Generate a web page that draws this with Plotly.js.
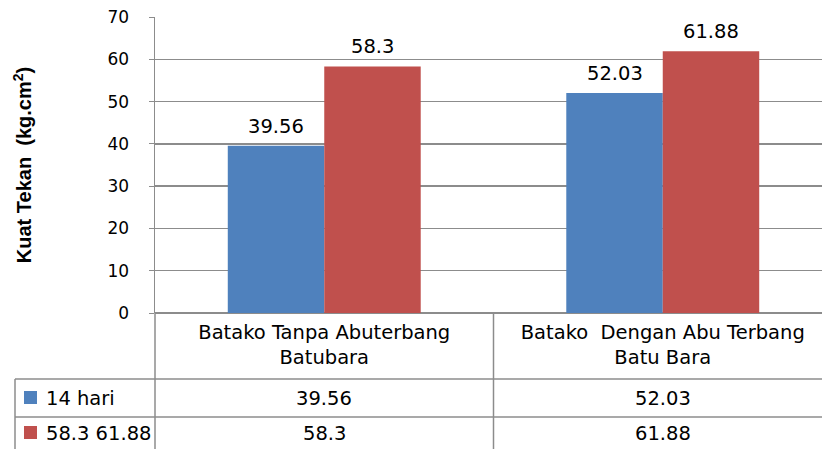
<!DOCTYPE html>
<html>
<head>
<meta charset="utf-8">
<script src="https://cdn.plot.ly/plotly-3.0.1.min.js"></script>
<style>html,body{margin:0;padding:0;background:#fff;}#chart{width:822px;height:449px;}</style>
</head>
<body>
<div id="chart"></div>
<script>
const categories = ["Batako Tanpa Abuterbang<br>Batubara", "Batako\u00a0\u00a0Dengan Abu Terbang<br>Batu Bara"];
const seriesNames = ["14 hari", "58.3 61.88"];
const series14 = [39.56, 52.03];
const series28 = [58.3, 61.88];
const seriesColors = ["#4F81BD", "#C0504D"];
const yTitle = "Kuat Tekan\u00a0\u00a0(kg.cm<sup>2</sup>)";

const W = 822, H = 449;
const px = x => x / W;
const py = y => 1 - y / H;
const font = "DejaVu Sans, Verdana, sans-serif";
const grid = "#8c8c8c";
const txtSize = 19.5;
const bargap = 0.43;
const barW = (1 - bargap) / 2;

const allSeries = [series14, series28];
const traces = allSeries.map((vals, i) => ({
  type: "bar",
  name: seriesNames[i],
  x: categories,
  y: vals,
  marker: {color: seriesColors[i]},
  hoverinfo: "none"
}));

const shapes = [];
const annotations = [];
// data labels above the bars (positioned by the axes from the data)
allSeries.forEach((vals, i) => {
  vals.forEach((v, j) => {
    annotations.push({xref: "x", yref: "y", x: j + (i - 0.5) * barW, y: v, yanchor: "bottom", xanchor: "center", yshift: 6,
      text: String(v), showarrow: false, font: {family: font, size: txtSize, color: "#000"}});
  });
});

// table geometry (pixel positions)
const tblLeft = 15, plotLeft = 155, mid = 493.5, right = 832;
const rowTops = [379, 417];
const rowBottom = 452;
rowTops.forEach(y => shapes.push({type: "line", xref: "paper", yref: "paper", x0: px(tblLeft), x1: 1, y0: py(y), y1: py(y), line: {color: grid, width: 1.5}}));
shapes.push({type: "line", xref: "paper", yref: "paper", x0: px(tblLeft), x1: px(tblLeft), y0: py(rowTops[0]), y1: py(rowBottom), line: {color: grid, width: 1.5}});
shapes.push({type: "line", xref: "paper", yref: "paper", x0: px(plotLeft), x1: px(plotLeft), y0: py(313), y1: py(rowBottom), line: {color: grid, width: 1.5}});
shapes.push({type: "line", xref: "paper", yref: "paper", x0: px(mid), x1: px(mid), y0: py(313), y1: py(rowBottom), line: {color: grid, width: 1.5}});

const colCenters = [(plotLeft + mid) / 2, (mid + right) / 2];
const rowCenters = [398, 433];
allSeries.forEach((vals, i) => {
  const yc = rowCenters[i];
  shapes.push({type: "rect", xref: "paper", yref: "paper", x0: px(24), x1: px(37), y0: py(yc + 6), y1: py(yc - 7), fillcolor: seriesColors[i], line: {width: 0}});
  annotations.push({xref: "paper", yref: "paper", x: px(44), y: py(yc), xanchor: "left", yanchor: "middle", text: seriesNames[i], showarrow: false, font: {family: font, size: txtSize, color: "#000"}});
  vals.forEach((v, j) => {
    annotations.push({xref: "paper", yref: "paper", x: px(colCenters[j]), y: py(yc), xanchor: "center", yanchor: "middle", text: String(v), showarrow: false, font: {family: font, size: txtSize, color: "#000"}});
  });
});

const layout = {
  width: W, height: H,
  margin: {l: 0, r: 0, t: 0, b: 0},
  paper_bgcolor: "#fff", plot_bgcolor: "#fff",
  showlegend: false,
  barmode: "group",
  bargap: bargap,
  bargroupgap: 0,
  xaxis: {
    domain: [px(plotLeft), 1],
    type: "category",
    range: [-0.5, 1.5 - (right - W) / ((right - plotLeft) / 2)],
    showgrid: false,
    showline: false,
    zeroline: false,
    ticks: "",
    ticklabelstandoff: 5,
    tickfont: {family: font, size: txtSize, color: "#000"},
    fixedrange: true
  },
  yaxis: {
    domain: [py(313), py(17)],
    range: [0, 70],
    dtick: 10,
    showgrid: true,
    gridcolor: grid,
    gridwidth: 1.3,
    showline: true,
    linecolor: grid,
    linewidth: 1.5,
    zeroline: true,
    zerolinecolor: grid,
    zerolinewidth: 1.5,
    ticks: "outside",
    ticklen: 5,
    tickcolor: grid,
    ticklabelstandoff: 16,
    tickfont: {family: font, size: 17, color: "#000"},
    title: {text: yTitle, font: {family: "Liberation Sans, Arial, sans-serif", size: 20, color: "#000", weight: "bold"}, standoff: 70},
    automargin: false,
    fixedrange: true
  },
  shapes: shapes,
  annotations: annotations
};

Plotly.newPlot("chart", traces, layout, {displayModeBar: false, staticPlot: true});
</script>
</body>
</html>
